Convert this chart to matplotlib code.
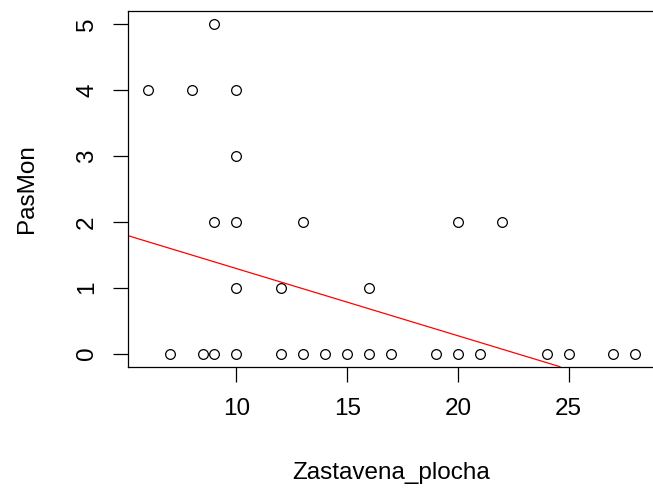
import matplotlib
matplotlib.use("Agg")
import matplotlib.pyplot as plt

plt.rcParams["font.family"] = ["Liberation Sans", "DejaVu Sans"]

# data
zastavena_plocha = [9, 6, 8, 10, 10, 9, 10, 13, 20, 22, 10, 12, 16,
                    7, 8.5, 9, 10, 12, 13, 14, 15, 16, 17, 19, 20, 21, 24, 25, 27, 28]
pas_mon = [5, 4, 4, 4, 3, 2, 2, 2, 2, 2, 1, 1, 1,
           0, 0, 0, 0, 0, 0, 0, 0, 0, 0, 0, 0, 0, 0, 0, 0, 0]

# regression line (abline of lm)
intercept = 2.31
slope = -0.102

x_ticks = [10, 15, 20, 25]
y_ticks = [0, 1, 2, 3, 4, 5]

FS = 17.5

fig = plt.figure(figsize=(6.53, 4.91), dpi=100)
ax = fig.add_axes([128.3 / 653, 1 - 366.7 / 491, 526.3 / 653, 355.7 / 491])

ax.plot(zastavena_plocha, pas_mon, linestyle="none", marker="o", markersize=7,
        markerfacecolor="none", markeredgecolor="black", markeredgewidth=0.9)
ax.axline((0, intercept), slope=slope, color="red", linewidth=0.9)

# R style 4% padding
xr = max(zastavena_plocha) - min(zastavena_plocha)
yr = max(pas_mon) - min(pas_mon)
ax.set_xlim(min(zastavena_plocha) - 0.04 * xr, max(zastavena_plocha) + 0.04 * xr)
ax.set_ylim(min(pas_mon) - 0.04 * yr, max(pas_mon) + 0.04 * yr)

ax.set_xticks(x_ticks)
ax.set_yticks(y_ticks)
ax.tick_params(axis="both", length=10.8, width=0.9, labelsize=FS, color="black")
ax.tick_params(axis="x", pad=11.5)
ax.tick_params(axis="y", pad=11, labelrotation=90)
for lab in ax.get_yticklabels():
    lab.set_verticalalignment("center")

for spine in ax.spines.values():
    spine.set_linewidth(0.9)
# the right border falls just outside the cropped picture
ax.spines["right"].set_visible(False)

ax.set_xlabel("Zastavena_plocha", fontsize=FS)
ax.set_ylabel("PasMon", fontsize=FS)
ax.xaxis.set_label_coords(0.5, -0.268)
ax.yaxis.set_label_coords(-0.1716, 0.5)

fig.savefig("out.png", dpi=100)
